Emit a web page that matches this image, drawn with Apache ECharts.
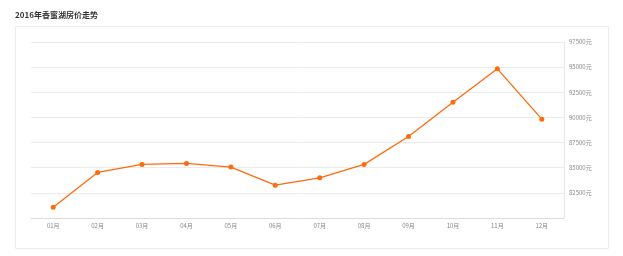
<!DOCTYPE html>
<html><head><meta charset="utf-8">
<script src="https://cdn.jsdelivr.net/npm/echarts@6/dist/echarts.min.js"></script>
<style>html,body{margin:0;padding:0;background:#fff}#c{width:623px;height:256px}</style>
</head><body><div id="c"></div>
<script>
const titleText = "2016年香蜜湖房价走势";
const months = ["01月","02月","03月","04月","05月","06月","07月","08月","09月","10月","11月","12月"];
const prices = [81060,84530,85330,85430,85060,83260,84000,85330,88100,91500,94830,89830];
const yMin = 80000, yMax = 97500, yStep = 2500;

const chart = echarts.init(document.getElementById('c'), null, {renderer:'canvas'});
chart.setOption({
  animation:false,
  title:{text:titleText,left:15,top:11,padding:0,textStyle:{fontSize:8,fontWeight:'bold',color:'#333',fontFamily:'Noto Sans CJK SC'}},
  graphic:[{type:'rect',shape:{x:15.5,y:26.5,width:593,height:222},style:{fill:'none',stroke:'#ececec',lineWidth:1},silent:true,z:-1}],
  grid:{left:31,right:59,top:42,bottom:38},
  xAxis:{type:'category',data:months,boundaryGap:true,
    axisLine:{lineStyle:{color:'#dcdcdc'}},
    axisTick:{alignWithLabel:true,length:2,lineStyle:{color:'#dcdcdc'}},
    axisLabel:{fontSize:6,color:'#888',margin:5,fontFamily:'Noto Sans CJK SC'},
    splitLine:{show:false}},
  yAxis:{type:'value',position:'right',min:yMin,max:yMax,interval:yStep,
    axisLine:{show:true,lineStyle:{color:'#e8e8e8'}},
    axisTick:{show:false},
    axisLabel:{fontSize:6,color:'#888',margin:5,showMinLabel:false,formatter:v=>v+'元',fontFamily:'Noto Sans CJK SC'},
    splitLine:{lineStyle:{color:'#ebebeb'}}},
  series:[{type:'line',data:prices,symbol:'circle',symbolSize:5,
    itemStyle:{color:'#ff6a0d'},lineStyle:{color:'#ff6a0d',width:1.3}}]
});
</script></body></html>
